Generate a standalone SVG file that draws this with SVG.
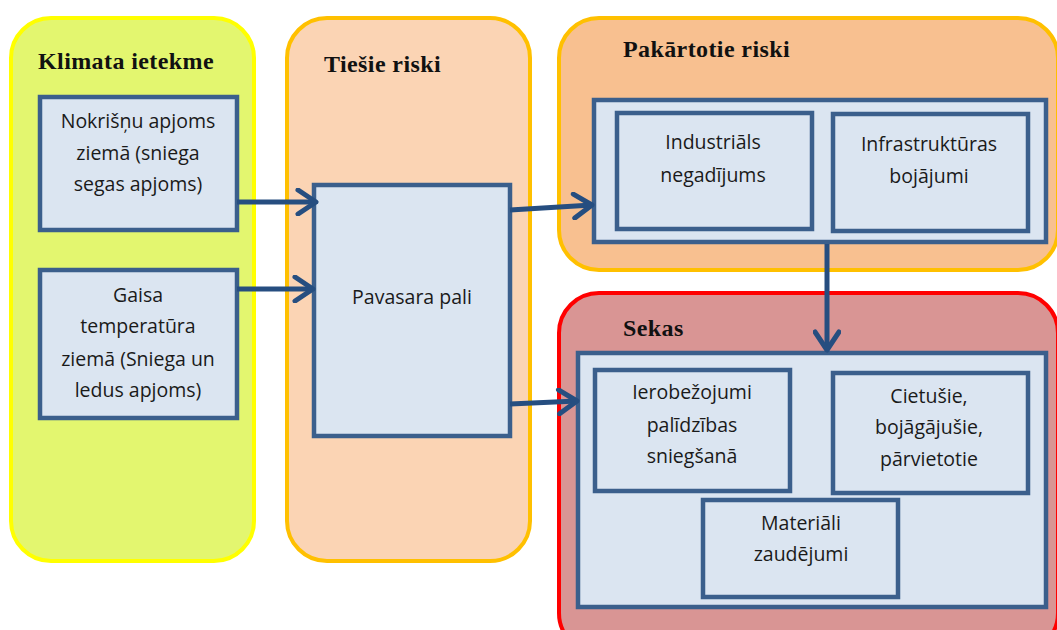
<svg xmlns="http://www.w3.org/2000/svg" width="1057" height="630" viewBox="0 0 1057 630">
<style>
.box{fill:#DBE5F1;stroke:#3B5F8C;stroke-width:4.5}
.t{font-family:"Open Sans",Lato,"Liberation Sans",sans-serif;font-size:19.5px;fill:#1a1a1a;text-anchor:middle}
.h{font-family:"Liberation Serif","Times New Roman",serif;font-weight:bold;font-size:24px;letter-spacing:0.4px;fill:#111}
.c{stroke-width:4}
.conn{stroke:#264E80;stroke-width:5;fill:none}
</style>
<defs>
<marker id="ah" viewBox="0 0 24 28" refX="21" refY="14" markerWidth="24" markerHeight="28" markerUnits="userSpaceOnUse" orient="auto">
<path d="M3,2 L21,14 L3,26" fill="none" stroke="#264E80" stroke-width="5" stroke-linecap="round" stroke-linejoin="round"/>
</marker>
</defs>
<rect width="1057" height="630" fill="#fff"/>
<g id="klimata">
<rect class="c" x="11" y="18" width="243" height="543" rx="40" fill="#E3F66F" stroke="#FFFF00"/>
<text class="h" x="38" y="69">Klimata ietekme</text>
</g>
<g id="tiesie">
<rect class="c" x="287" y="18" width="243" height="543" rx="40" fill="#FBD4B4" stroke="#FFC000"/>
<text class="h" x="324" y="72">Tiešie riski</text>
</g>
<g id="pakartotie">
<rect class="c" x="559" y="18" width="499" height="252" rx="40" fill="#F8C090" stroke="#FFC000"/>
<text class="h" x="623" y="57">Pakārtotie riski</text>
<rect class="box" x="594" y="100" width="452" height="142"/>
</g>
<g id="sekas">
<rect class="c" x="559" y="293" width="499" height="360" rx="40" fill="#D99594" stroke="#FF0000"/>
<text class="h" x="623" y="336">Sekas</text>
<rect class="box" x="578" y="353" width="468" height="254"/>
</g>
<g id="nokrisnu">
<rect class="box" x="40" y="97" width="197" height="133"/>
<text class="t" x="138" y="128">Nokrišņu apjoms</text>
<text class="t" x="138" y="160">ziemā (sniega</text>
<text class="t" x="138" y="191">segas apjoms)</text>
</g>
<g id="gaisa">
<rect class="box" x="40" y="270" width="197" height="148"/>
<text class="t" x="138" y="302">Gaisa</text>
<text class="t" x="138" y="333">temperatūra</text>
<text class="t" x="138" y="366">ziemā (Sniega un</text>
<text class="t" x="138" y="397">ledus apjoms)</text>
</g>
<g id="pavasara">
<rect class="box" x="314" y="185" width="196" height="251"/>
<text class="t" x="412" y="304">Pavasara pali</text>
</g>
<g id="industrials">
<rect class="box" x="617" y="113" width="195" height="116"/>
<text class="t" x="713" y="149">Industriāls</text>
<text class="t" x="713" y="182">negadījums</text>
</g>
<g id="infrastrukturas">
<rect class="box" x="833" y="114" width="195" height="117"/>
<text class="t" x="929" y="151">Infrastruktūras</text>
<text class="t" x="929" y="183">bojājumi</text>
</g>
<g id="ierobezojumi">
<rect class="box" x="595" y="370" width="195" height="121"/>
<text class="t" x="692" y="399">Ierobežojumi</text>
<text class="t" x="692" y="432">palīdzības</text>
<text class="t" x="692" y="463">sniegšanā</text>
</g>
<g id="cietusie">
<rect class="box" x="833" y="373" width="195" height="120"/>
<text class="t" x="929" y="403">Cietušie,</text>
<text class="t" x="929" y="434">bojāgājušie,</text>
<text class="t" x="929" y="466">pārvietotie</text>
</g>
<g id="materiali">
<rect class="box" x="703" y="500" width="195" height="97"/>
<text class="t" x="801" y="530">Materiāli</text>
<text class="t" x="801" y="561">zaudējumi</text>
</g>
<g id="connectors">
<line class="conn" x1="237" y1="202" x2="316" y2="202" marker-end="url(#ah)"/>
<line class="conn" x1="237" y1="289" x2="313" y2="289" marker-end="url(#ah)"/>
<line class="conn" x1="510" y1="210" x2="592" y2="205" marker-end="url(#ah)"/>
<line class="conn" x1="510" y1="404" x2="577" y2="401" marker-end="url(#ah)"/>
<line class="conn" x1="827" y1="244" x2="827" y2="350" marker-end="url(#ah)"/>
</g>
</svg>
